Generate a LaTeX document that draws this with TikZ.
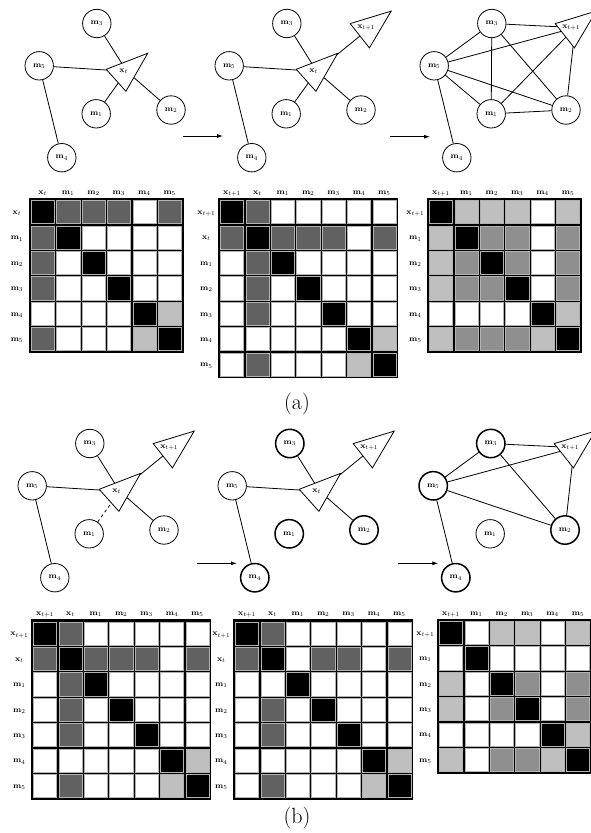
\documentclass[tikz,border=0pt]{standalone}
\usetikzlibrary{arrows.meta}
\definecolor{c0}{gray}{1}
\definecolor{c1}{gray}{0.75}
\definecolor{c2}{gray}{0.56}
\definecolor{c3}{gray}{0.38}
\definecolor{c4}{gray}{0}
\newcommand\mlab[1]{$\mathbf{m}_{#1}$}
\newcommand\xlab[1]{$\mathbf{x}_{#1}$}
\def\cellp{25.4}
% #1 prefix, #2 left, #3 top, #4 n, #5 labels, #6 rows
\newcommand\drawmat[6]{%
  \begin{scope}[shift={(#2,#3)}, name prefix=#1-]
    \fill[black] (-1.3,-1.3) rectangle ({#4*\cellp+1.3},{#4*\cellp+1.3});
    \foreach \lab [count=\k] in {#5} {
      \node[collab] (c\k) at ({(\k-0.5)*\cellp},-5) {\lab};
      \node[rowlab] (r\k) at (-13,{(\k-0.5)*\cellp+2.5}) {\lab};
    }
    \foreach \row [count=\i] in {#6} {
      \foreach \v [count=\j] in \row {
        \filldraw[fill=c\v, draw=gray!60, line width=0.4pt]
          ({(\j-1)*\cellp+1.1},{(\i-1)*\cellp+1.1}) rectangle ({\j*\cellp-1.1},{\i*\cellp-1.1});
      }
    }
  \end{scope}}
\newcommand\trixt[1]{\draw[fill=white, line width=0.8pt, shift={(#1)}] (-20.5,-2) -- (21,-18) -- (-0.8,20) -- cycle;}
\newcommand\trixtt[1]{\draw[fill=white, line width=0.8pt, shift={(#1)}] (-20,-4) -- (21,-16.5) -- (-0.8,20.3) -- cycle;}
\begin{document}
\begin{tikzpicture}[x=1pt,y=-1pt,
  mnode/.style={circle,draw,line width=0.8pt,minimum size=28.4pt,inner sep=0pt,font=\fontsize{8.5}{10}\selectfont},
  mbold/.style={mnode,line width=1.5pt},
  edge/.style={line width=0.8pt},
  tlab/.style={font=\fontsize{8.5}{10}\selectfont,inner sep=0pt},
  arr/.style={line width=0.8pt,-{Latex[length=6pt,width=4pt]}},
  collab/.style={font=\fontsize{8.5}{10}\selectfont,anchor=base,inner sep=0pt},
  rowlab/.style={font=\fontsize{8.5}{10}\selectfont,anchor=base,inner sep=0pt},
  caption/.style={font=\fontsize{22}{26}\selectfont,inner sep=0pt}]
\useasboundingbox (0,0) rectangle (591,833);

% ---------- Graph 1 (top left)
\begin{scope}[shift={(0,0)}, name prefix=g1-]
  \node[mnode] (m3) at (96.8,23.5) {\mlab3};
  \node[mnode] (m5) at (39.2,65.8) {\mlab5};
  \node[mnode] (m1) at (96.2,113.8) {\mlab1};
  \node[mnode] (m2) at (171,110) {\mlab2};
  \node[mnode] (m4) at (61.8,157.7) {\mlab4};
  \coordinate (xt) at (126.7,71.3);
  \draw[edge] (m3) -- (xt);
  \draw[edge] (m5) -- (xt);
  \draw[edge] (m1) -- (xt);
  \draw[edge] (m2) -- (xt);
  \draw[edge] (m5) -- (m4);
  \trixt{xt}
  \path (xt) ++(-3,0) node[tlab] (xtl) {\xlab{t}};
\end{scope}

% ---------- Graph 2 (top middle)
\begin{scope}[shift={(190,0)}, name prefix=g2-]
  \node[mnode] (m3) at (96.8,23.5) {\mlab3};
  \node[mnode] (m5) at (39.2,65.8) {\mlab5};
  \node[mnode] (m1) at (96.2,113.8) {\mlab1};
  \node[mnode] (m2) at (171,110) {\mlab2};
  \node[mnode] (m4) at (61.8,157.7) {\mlab4};
  \coordinate (xt) at (126.7,71.3);
  \coordinate (xtt) at (180.2,27.6);
  \draw[edge] (m3) -- (xt);
  \draw[edge] (m5) -- (xt);
  \draw[edge] (m1) -- (xt);
  \draw[edge] (m2) -- (xt);
  \draw[edge] (m5) -- (m4);
  \draw[edge] (xt) -- (xtt);
  \trixt{xt}
  \trixtt{xtt}
  \path (xt) ++(-3,0) node[tlab] (xtl) {\xlab{t}};
  \path (xtt) ++(-4,0) node[tlab] (xttl) {\xlab{t+1}};
\end{scope}

% ---------- Graph 3 (top right)
\begin{scope}[shift={(395,0)}, name prefix=g3-]
  \node[mnode] (m3) at (96.8,23.5) {\mlab3};
  \node[mnode] (m5) at (39.2,65.8) {\mlab5};
  \node[mnode] (m1) at (96.2,113.8) {\mlab1};
  \node[mnode] (m2) at (171,110) {\mlab2};
  \node[mnode] (m4) at (61.8,157.7) {\mlab4};
  \coordinate (xtt) at (180.2,27.6);
  \draw[edge] (m3) -- (xtt);
  \draw[edge] (m3) -- (m5);
  \draw[edge] (m3) -- (m1);
  \draw[edge] (m3) -- (m2);
  \draw[edge] (m5) -- (xtt);
  \draw[edge] (m5) -- (m1);
  \draw[edge] (m5) -- (m2);
  \draw[edge] (m5) -- (m4);
  \draw[edge] (m1) -- (m2);
  \draw[edge] (m1) -- (xtt);
  \draw[edge] (m2) -- (xtt);
  \trixtt{xtt}
  \path (xtt) ++(-4,0) node[tlab] (xttl) {\xlab{t+1}};
\end{scope}

% ---------- Graph 7 (bottom left)
\begin{scope}[shift={(-7,420)}, name prefix=g7-]
  \node[mnode] (m3) at (96.8,23.5) {\mlab3};
  \node[mnode] (m5) at (39.2,65.8) {\mlab5};
  \node[mnode] (m1) at (96.2,113.8) {\mlab1};
  \node[mnode] (m2) at (171,110) {\mlab2};
  \node[mnode] (m4) at (61.8,157.7) {\mlab4};
  \coordinate (xt) at (126.7,71.3);
  \coordinate (xtt) at (180.2,27.6);
  \draw[edge] (m3) -- (xt);
  \draw[edge] (m5) -- (xt);
  \draw[edge,dashed] (m1) -- (xt);
  \draw[edge] (m2) -- (xt);
  \draw[edge] (m5) -- (m4);
  \draw[edge] (xt) -- (xtt);
  \trixt{xt}
  \trixtt{xtt}
  \path (xt) ++(-3,0) node[tlab] (xtl) {\xlab{t}};
  \path (xtt) ++(-4,0) node[tlab] (xttl) {\xlab{t+1}};
\end{scope}

% ---------- Graph 8 (bottom middle)
\begin{scope}[shift={(193,420)}, name prefix=g8-]
  \node[mbold] (m3) at (96.8,23.5) {\mlab3};
  \node[mnode] (m5) at (39.2,65.8) {\mlab5};
  \node[mbold] (m1) at (96.2,113.8) {\mlab1};
  \node[mbold] (m2) at (171,110) {\mlab2};
  \node[mbold] (m4) at (61.8,157.7) {\mlab4};
  \coordinate (xt) at (126.7,71.3);
  \coordinate (xtt) at (180.2,27.6);
  \draw[edge] (m3) -- (xt);
  \draw[edge] (m5) -- (xt);
  \draw[edge] (m2) -- (xt);
  \draw[edge] (m5) -- (m4);
  \draw[edge] (xt) -- (xtt);
  \trixt{xt}
  \trixtt{xtt}
  \path (xt) ++(-3,0) node[tlab] (xtl) {\xlab{t}};
  \path (xtt) ++(-4,0) node[tlab] (xttl) {\xlab{t+1}};
\end{scope}

% ---------- Graph 9 (bottom right)
\begin{scope}[shift={(394,420)}, name prefix=g9-]
  \node[mbold] (m3) at (96.8,23.5) {\mlab3};
  \node[mbold] (m5) at (39.2,65.8) {\mlab5};
  \node[mnode] (m1) at (96.2,113.8) {\mlab1};
  \node[mbold] (m2) at (171,110) {\mlab2};
  \node[mbold] (m4) at (61.8,157.7) {\mlab4};
  \coordinate (xtt) at (180.2,27.6);
  \draw[edge] (m3) -- (xtt);
  \draw[edge] (m3) -- (m5);
  \draw[edge] (m3) -- (m2);
  \draw[edge] (m5) -- (xtt);
  \draw[edge] (m5) -- (m2);
  \draw[edge] (m5) -- (m4);
  \draw[edge] (m2) -- (xtt);
  \trixtt{xtt}
  \path (xtt) ++(-4,0) node[tlab] (xttl) {\xlab{t+1}};
\end{scope}

% ---------- arrows
\coordinate (a1s) at (183,136); \coordinate (a1e) at (223,136);
\coordinate (a2s) at (390,136.7); \coordinate (a2e) at (430,136.7);
\coordinate (b1s) at (197,563.3); \coordinate (b1e) at (237,563.3);
\coordinate (b2s) at (398.3,563.3); \coordinate (b2e) at (438.3,563.3);
\draw[arr] (a1s) -- (a1e);
\draw[arr] (a2s) -- (a2e);
\draw[arr] (b1s) -- (b1e);
\draw[arr] (b2s) -- (b2e);

% ---------- matrices
\drawmat{A1}{30}{199.3}{6}{\xlab{t},\mlab1,\mlab2,\mlab3,\mlab4,\mlab5}
  {{4,3,3,3,0,3},{3,4,0,0,0,0},{3,0,4,0,0,0},{3,0,0,4,0,0},{0,0,0,0,4,1},{3,0,0,0,1,4}}
\drawmat{A2}{219.3}{199.3}{7}{\xlab{t+1},\xlab{t},\mlab1,\mlab2,\mlab3,\mlab4,\mlab5}
  {{4,3,0,0,0,0,0},{3,4,3,3,3,0,3},{0,3,4,0,0,0,0},{0,3,0,4,0,0,0},{0,3,0,0,4,0,0},{0,0,0,0,0,4,1},{0,3,0,0,0,1,4}}
\drawmat{A3}{428.3}{199.3}{6}{\xlab{t+1},\mlab1,\mlab2,\mlab3,\mlab4,\mlab5}
  {{4,1,1,1,0,1},{1,4,2,2,0,2},{1,2,4,2,0,2},{1,2,2,4,0,2},{0,0,0,0,4,1},{1,2,2,2,1,4}}
\drawmat{B1}{32.3}{620.7}{7}{\xlab{t+1},\xlab{t},\mlab1,\mlab2,\mlab3,\mlab4,\mlab5}
  {{4,3,0,0,0,0,0},{3,4,3,3,3,0,3},{0,3,4,0,0,0,0},{0,3,0,4,0,0,0},{0,3,0,0,4,0,0},{0,0,0,0,0,4,1},{0,3,0,0,0,1,4}}
\drawmat{B2}{234.3}{620.7}{7}{\xlab{t+1},\xlab{t},\mlab1,\mlab2,\mlab3,\mlab4,\mlab5}
  {{4,3,0,0,0,0,0},{3,4,0,3,3,0,3},{0,0,4,0,0,0,0},{0,3,0,4,0,0,0},{0,3,0,0,4,0,0},{0,0,0,0,0,4,1},{0,3,0,0,0,1,4}}
\drawmat{B3}{438.3}{620}{6}{\xlab{t+1},\mlab1,\mlab2,\mlab3,\mlab4,\mlab5}
  {{4,0,1,1,0,1},{0,4,0,0,0,0},{1,0,4,2,0,2},{1,0,2,4,0,2},{0,0,0,0,4,1},{1,0,2,2,1,4}}

% ---------- captions
\node[caption] (capa) at (297,404) {(a)};
\node[caption] (capb) at (297,818) {(b)};
\end{tikzpicture}
\end{document}
